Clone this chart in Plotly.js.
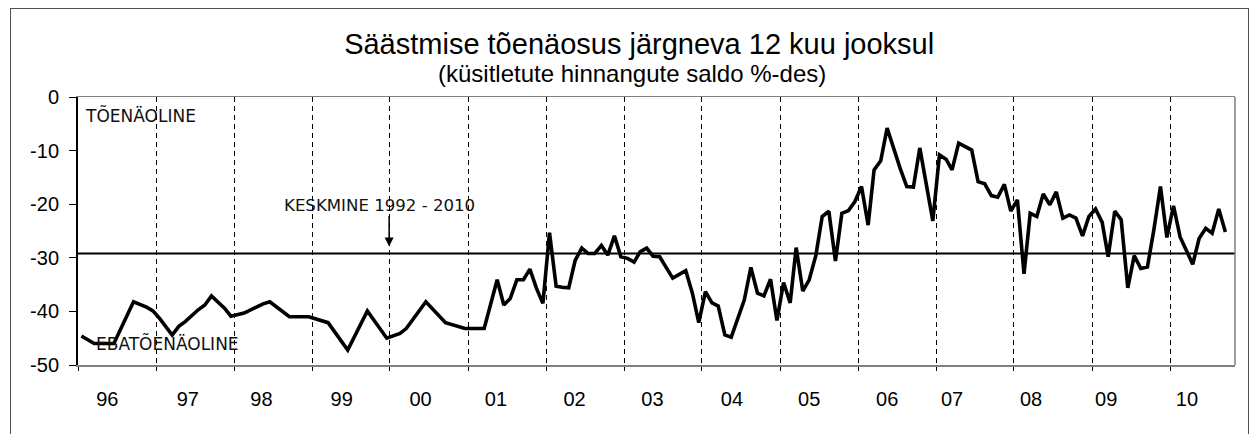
<!DOCTYPE html>
<html>
<head>
<meta charset="utf-8">
<script src="https://cdn.plot.ly/plotly-3.0.1.min.js"></script>
<style>
html,body{margin:0;padding:0;background:#fff;overflow:hidden;}
#frame{position:absolute;left:10px;top:8px;width:1237px;height:440px;border-left:1px solid #505050;border-top:1px solid #505050;border-right:1px solid #505050;}
#chart{width:1237px;height:430px;}
</style>
</head>
<body>
<div id="frame"><div id="chart"></div></div>
<script>
// Monthly survey balance (% of respondents)
const months = [
  "1996-01","1996-03","1996-06","1996-09","1996-11","1996-12",
  "1997-01","1997-03","1997-04","1997-05","1997-07","1997-08","1997-09","1997-11","1997-12",
  "1998-02","1998-05","1998-06","1998-09","1998-12",
  "1999-03","1999-06","1999-09","1999-12",
  "2000-02","2000-03","2000-06","2000-09","2000-12",
  "2001-03","2001-05","2001-06","2001-07","2001-08","2001-09","2001-10","2001-11","2001-12",
  "2002-01","2002-02","2002-03","2002-04","2002-05","2002-06","2002-07","2002-08","2002-09","2002-10","2002-11","2002-12",
  "2003-01","2003-02","2003-03","2003-04","2003-05","2003-06","2003-07","2003-08","2003-10","2003-11","2003-12",
  "2004-01","2004-02","2004-03","2004-04","2004-05","2004-07","2004-08","2004-09","2004-10","2004-11","2004-12",
  "2005-01","2005-02","2005-03","2005-04","2005-05","2005-06","2005-07","2005-08","2005-09","2005-10","2005-11","2005-12",
  "2006-01","2006-02","2006-03","2006-04","2006-05","2006-06","2006-07","2006-08","2006-09","2006-10","2006-12",
  "2007-01","2007-02","2007-03","2007-04","2007-06","2007-07","2007-08","2007-09","2007-10","2007-11","2007-12",
  "2008-01","2008-02","2008-03","2008-04","2008-05","2008-06","2008-07","2008-08","2008-09","2008-10","2008-11","2008-12",
  "2009-01","2009-02","2009-03","2009-04","2009-05","2009-06","2009-07","2009-08","2009-09","2009-10","2009-11","2009-12",
  "2010-01","2010-02","2010-03","2010-04","2010-05","2010-06","2010-07","2010-08","2010-09"
];
const values = [
  -44.6,-46.0,-46.0,-38.2,-39.2,-39.9,
  -41.3,-44.4,-42.8,-41.9,-39.7,-38.8,-37.1,-39.4,-40.9,
  -40.3,-38.6,-38.2,-41.0,-41.0,
  -42.1,-47.2,-39.9,-45.0,
  -44.1,-43.2,-38.2,-42.1,-43.2,
  -43.2,-34.1,-38.8,-37.6,-34.1,-34.1,-32.1,-35.7,-38.5,
  -25.3,-35.3,-35.5,-35.6,-30.5,-28.2,-29.2,-29.2,-27.7,-29.5,-25.9,-29.8,
  -30.1,-30.8,-28.9,-28.2,-29.7,-29.8,-31.8,-33.8,-32.4,-36.6,-42.1,
  -36.3,-38.4,-39.0,-44.4,-44.8,-37.9,-31.8,-36.6,-37.1,-34.0,-41.7,
  -34.6,-38.4,-28.1,-36.2,-34.1,-29.6,-22.3,-21.3,-30.6,-21.7,-21.2,-19.5,
  -16.7,-23.9,-13.6,-11.9,-5.8,-9.9,-13.3,-16.7,-16.8,-9.5,-23.1,
  -10.8,-11.6,-13.6,-8.6,-9.9,-15.8,-16.2,-18.4,-18.7,-16.3,-21.3,
  -19.2,-33.0,-21.7,-22.3,-18.1,-20.1,-17.7,-22.6,-22.0,-22.6,-25.9,-22.3,
  -20.9,-23.4,-29.8,-21.3,-22.9,-35.6,-29.6,-32.0,-31.7,-24.8,-16.7,-26.2,
  -20.3,-26.1,-28.5,-31.2,-26.4,-24.5,-25.4,-20.9,-25.2
];
// long-run average 1992-2010
const average = -29.2;
// year tick labels and where they sit
const yearLabels = ["96","97","98","99","00","01","02","03","04","05","06","07","08","09","10"];
const yearLabelDates = ["1996-05-01","1997-05-13","1998-04-23","1999-05-04","2000-05-07","2001-04-25","2002-04-28","2003-04-28","2004-05-04","2005-05-01","2006-05-01","2007-03-01","2008-03-05","2009-02-20","2010-03-05"];
const yTicks = [0,-10,-20,-30,-40,-50];

const NUM = "Liberation Sans, Arial, sans-serif";
const LBL = "DejaVu Sans, Verdana, sans-serif";

const trace = {
  x: months, y: values, type: "scatter", mode: "lines",
  line: {color: "#000", width: 3.6}, hoverinfo: "skip", showlegend: false
};

const layout = {
  width: 1237, height: 430,
  margin: {l: 67, r: 13, t: 88, b: 74},
  paper_bgcolor: "#fff", plot_bgcolor: "#fff",
  font: {family: NUM, color: "#000"},
  showlegend: false,
  title: {
    text: "Säästmise tõenäosus järgneva 12 kuu jooksul",
    font: {family: NUM, size: 29, color: "#000"},
    x: 0.485, xref: "paper", xanchor: "center",
    y: 0.918, yref: "container", yanchor: "middle"
  },
  xaxis: {
    type: "date",
    range: ["1995-12-16", "2010-10-16"],
    tickmode: "array", tickvals: yearLabelDates, ticktext: yearLabels,
    ticks: "", showgrid: false, zeroline: false,
    showline: true, linecolor: "#808080", linewidth: 1.5, mirror: true,
    tickfont: {family: NUM, size: 20, color: "#000"},
    ticklabelstandoff: 15,
    minor: {
      tickmode: "linear", dtick: "M12", tick0: "1996-12-16",
      ticks: "outside", ticklen: 4, tickcolor: "#000", tickwidth: 1,
      showgrid: true, gridcolor: "#000", gridwidth: 1, griddash: "5px,4px"
    },
    fixedrange: true
  },
  yaxis: {
    range: [-50, 0], tickmode: "array", tickvals: yTicks, ticktext: yTicks.map(String),
    ticks: "outside", ticklen: 7, tickcolor: "#000", tickwidth: 1,
    showline: true, linecolor: "#000", linewidth: 2,
    showgrid: false, zeroline: false,
    tickfont: {family: NUM, size: 20, color: "#000"},
    ticklabelstandoff: 6,
    fixedrange: true
  },
  shapes: [
    {type: "line", xref: "paper", x0: 0, x1: 1, yref: "y", y0: average, y1: average,
     line: {color: "#000", width: 2}, layer: "between"},
    {type: "line", xref: "paper", x0: 1, x1: 1, yref: "paper", y0: 0, y1: 1,
     line: {color: "#808080", width: 1.5}}
  ],
  annotations: [
    {text: "(küsitletute hinnangute saldo %-des)", xref: "paper", yref: "paper",
     x: 0.479, y: 1.088, xanchor: "center", yanchor: "middle", showarrow: false,
     font: {family: NUM, size: 24, color: "#000"}},
    {text: "TÕENÄOLINE", xref: "paper", yref: "y", x: 0.004, y: -3.5,
     xanchor: "left", yanchor: "middle", showarrow: false,
     font: {family: LBL, size: 17, color: "#111"}},
    {text: "EBATÕENÄOLINE", xref: "paper", yref: "y", x: 0.0135, y: -45.9,
     xanchor: "left", yanchor: "middle", showarrow: false,
     font: {family: LBL, size: 17, color: "#111"}},
    {text: "KESKMINE 1992 - 2010", xref: "paper", yref: "y", x: 0.176, y: -20.3,
     xanchor: "left", yanchor: "middle", showarrow: false,
     font: {family: LBL, size: 16.6, color: "#111"}},
    {text: "", xref: "x", yref: "y", x: "1999-12-12", y: -27.9,
     showarrow: true, ax: 0, ay: -32, arrowhead: 2, arrowsize: 1.2,
     arrowwidth: 1.5, arrowcolor: "#000"}
  ]
};

Plotly.newPlot("chart", [trace], layout, {displayModeBar: false, staticPlot: true});
</script>
</body>
</html>
